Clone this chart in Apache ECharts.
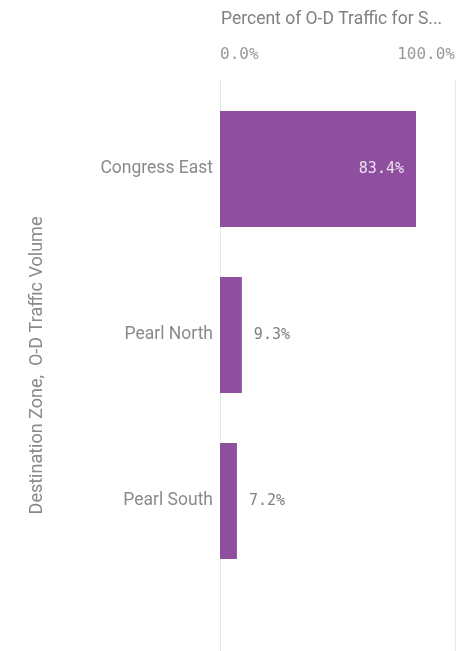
<!DOCTYPE html>
<html>
<head>
<meta charset="utf-8">
<script src="https://cdn.jsdelivr.net/npm/echarts@6/dist/echarts.min.js"></script>
<style>
  html, body { margin: 0; padding: 0; background: #fff; }
  #chart { width: 458px; height: 651px; }
</style>
</head>
<body>
<div id="chart"></div>
<script>
// data
var zones = ['Congress East', 'Pearl North', 'Pearl South'];
var shares = [83.4, 9.3, 7.2];
var insideLabel = [true, false, false];

var barColor = '#8e4f9f';
var grey = '#8a8a8a';
var mono = '"DejaVu Sans Mono", monospace';

var chart = echarts.init(document.getElementById('chart'));

var barData = zones.map(function (z, i) {
  return {
    value: shares[i],
    label: insideLabel[i]
      ? { position: 'insideRight', color: '#eee4f2', distance: 12 }
      : { position: 'right', color: '#7f7f7f', distance: 12 }
  };
});

chart.setOption({
  animation: false,
  title: {
    text: 'Percent of O-D Traffic for S...',
    left: 216,
    top: 6,
    textStyle: { color: '#808080', fontSize: 17.5, fontWeight: 'normal', fontFamily: 'Roboto' }
  },
  grid: [
    { left: 220, right: 3, top: 86, height: 498 },
    { left: 220, right: 3, top: 80, bottom: 0 }
  ],
  xAxis: [{
    gridIndex: 0,
    type: 'value',
    position: 'top',
    min: 0,
    max: 100,
    interval: 100,
    axisLine: { show: false },
    axisTick: { show: false },
    splitLine: { show: false },
    axisLabel: {
      margin: 23,
      color: '#999999',
      fontSize: 16,
      fontFamily: mono,
      alignMinLabel: 'left',
      alignMaxLabel: 'right',
      formatter: function (v) { return v.toFixed(1) + '%'; }
    }
  }, {
    gridIndex: 1,
    type: 'value',
    min: 0,
    max: 100,
    interval: 100,
    axisLine: { show: false },
    axisTick: { show: false },
    axisLabel: { show: false },
    splitLine: { lineStyle: { color: '#e8e8e8', width: 1 } }
  }],
  yAxis: [{
    gridIndex: 0,
    type: 'category',
    data: zones,
    inverse: true,
    axisLine: { show: false },
    axisTick: { show: false },
    axisLabel: { margin: 7, color: grey, fontSize: 17.5, fontFamily: 'Roboto' }
  }, {
    gridIndex: 1,
    type: 'category',
    data: [''],
    axisLine: { show: false },
    axisTick: { show: false },
    axisLabel: { show: false },
    name: 'Destination Zone,  O-D Traffic Volume',
    nameLocation: 'middle',
    nameGap: 174,
    nameTextStyle: { color: grey, fontSize: 18, fontFamily: 'Roboto' }
  }],
  series: [{
    type: 'bar',
    xAxisIndex: 0,
    yAxisIndex: 0,
    data: barData,
    barCategoryGap: '30%',
    itemStyle: { color: barColor },
    label: {
      show: true,
      fontSize: 15,
      fontFamily: mono,
      formatter: function (p) { return p.value.toFixed(1) + '%'; }
    }
  }]
});
</script>
</body>
</html>
